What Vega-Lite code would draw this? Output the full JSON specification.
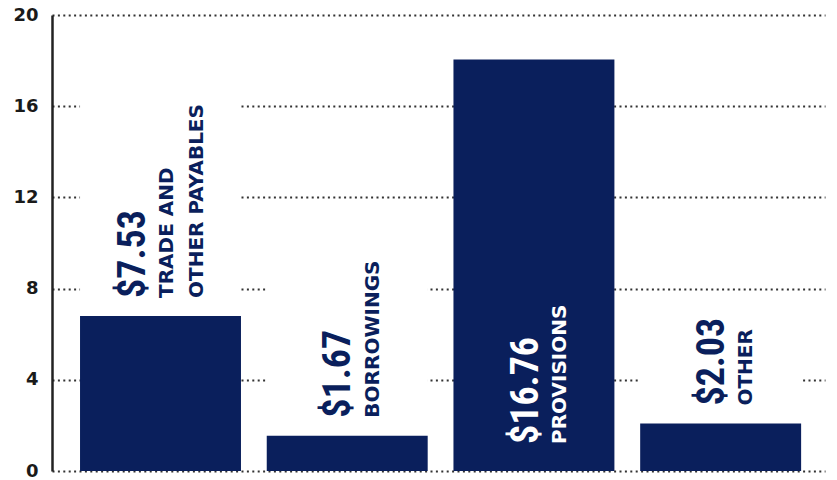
{
  "$schema": "https://vega.github.io/schema/vega-lite/v6.json",
  "autosize": {"type": "none"},
  "padding": {"left": 52, "top": 15, "right": 12, "bottom": 9},
  "width": 773,
  "height": 456,
  "background": "white",
  "view": {"stroke": null},
  "data": {
    "values": [
      {"k": "trade", "amount": 6.8, "value": "$7.53", "name": "TRADE AND|OTHER PAYABLES"},
      {"k": "borrow", "amount": 1.55, "value": "$1.67", "name": "BORROWINGS"},
      {"k": "prov", "amount": 18.05, "value": "$16.76", "name": "PROVISIONS"},
      {"k": "other", "amount": 2.08, "value": "$2.03", "name": "OTHER"}
    ]
  },
  "encoding": {
    "x": {
      "field": "k", "type": "nominal", "sort": ["trade", "borrow", "prov", "other"], "axis": null,
      "scale": {"paddingInner": 0.138, "paddingOuter": 0.139, "align": 0.54}
    },
    "y": {
      "field": "amount", "type": "quantitative",
      "scale": {"domain": [0, 20], "nice": false},
      "axis": {
        "values": [0, 4, 8, 12, 16, 20], "title": null, "grid": true,
        "gridDash": [2, 3.4], "gridColor": "#333333", "gridWidth": 2,
        "domain": true, "domainColor": "#222222", "domainWidth": 2.5,
        "ticks": false, "labelPadding": 14,
        "labelFont": "DejaVu Sans", "labelFontWeight": "bold", "labelFontSize": 18,
        "labelColor": "#1a1a1a"
      }
    }
  },
  "layer": [
    {
      "transform": [{"filter": "datum.k == 'trade'"}],
      "mark": {"type": "bar", "color": "white", "y2Offset": -220},
      "encoding": {"y2": {"field": "amount"}}
    },
    {
      "transform": [{"filter": "datum.k == 'borrow'"}],
      "mark": {"type": "bar", "color": "white", "y2Offset": -185},
      "encoding": {"y2": {"field": "amount"}}
    },
    {
      "transform": [{"filter": "datum.k == 'other'"}],
      "mark": {"type": "bar", "color": "white", "y2Offset": -106},
      "encoding": {"y2": {"field": "amount"}}
    },
    {
      "mark": {"type": "bar", "color": "#0a1f5c"}
    },
    {
      "transform": [{"filter": "datum.k == 'trade'"}],
      "mark": {"type": "text", "angle": 270, "align": "left", "baseline": "alphabetic", "dx": 18, "dy": -16,
               "font": "'Noto Sans ExtraCondensed', 'Noto Sans Condensed', 'Liberation Sans Narrow', 'Roboto Condensed', Roboto, sans-serif", "fontWeight": "bold", "fontSize": 38, "color": "#0a1f5c"},
      "encoding": {"text": {"field": "value"}}
    },
    {
      "transform": [{"filter": "datum.k == 'trade'"}],
      "mark": {"type": "text", "angle": 270, "align": "left", "baseline": "alphabetic", "dx": 18, "dy": 12,
               "lineBreak": "|", "lineHeight": 30,
               "font": "DejaVu Sans", "fontWeight": "bold", "fontSize": 20, "color": "#0a1f5c"},
      "encoding": {"text": {"field": "name"}}
    },
    {
      "transform": [{"filter": "datum.k == 'borrow' || datum.k == 'other'"}],
      "mark": {"type": "text", "angle": 270, "align": "left", "baseline": "alphabetic", "dx": 18, "dy": 3,
               "font": "'Noto Sans ExtraCondensed', 'Noto Sans Condensed', 'Liberation Sans Narrow', 'Roboto Condensed', Roboto, sans-serif", "fontWeight": "bold", "fontSize": 38, "color": "#0a1f5c"},
      "encoding": {"text": {"field": "value"}}
    },
    {
      "transform": [{"filter": "datum.k == 'borrow' || datum.k == 'other'"}],
      "mark": {"type": "text", "angle": 270, "align": "left", "baseline": "alphabetic", "dx": 18, "dy": 31.5,
               "font": "DejaVu Sans", "fontWeight": "bold", "fontSize": 20, "color": "#0a1f5c"},
      "encoding": {"text": {"field": "name"}}
    },
    {
      "transform": [{"filter": "datum.k == 'prov'"}],
      "mark": {"type": "text", "angle": 270, "align": "left", "baseline": "alphabetic", "dx": 27, "dy": 4,
               "font": "'Noto Sans ExtraCondensed', 'Noto Sans Condensed', 'Liberation Sans Narrow', 'Roboto Condensed', Roboto, sans-serif", "fontWeight": "bold", "fontSize": 38, "color": "white"},
      "encoding": {"text": {"field": "value"}, "y": {"datum": 0}}
    },
    {
      "transform": [{"filter": "datum.k == 'prov'"}],
      "mark": {"type": "text", "angle": 270, "align": "left", "baseline": "alphabetic", "dx": 27, "dy": 32.5,
               "font": "DejaVu Sans", "fontWeight": "bold", "fontSize": 20, "color": "white"},
      "encoding": {"text": {"field": "name"}, "y": {"datum": 0}}
    }
  ]
}
